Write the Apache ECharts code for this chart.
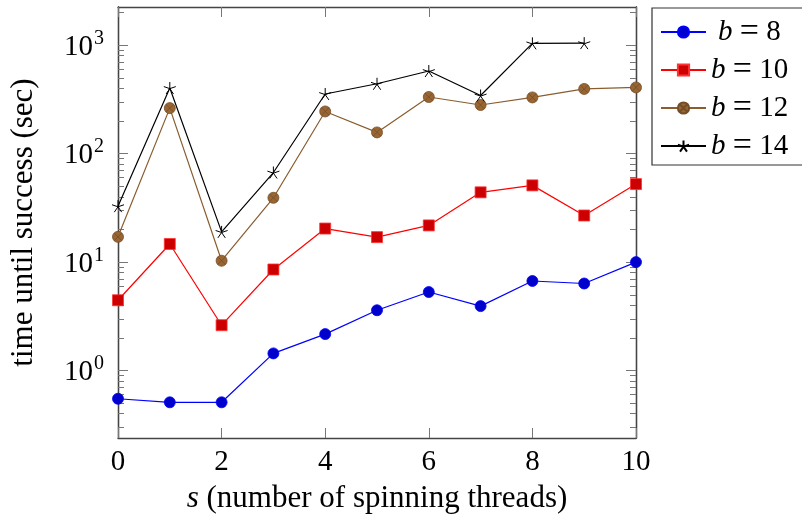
<!DOCTYPE html>
<html>
<head>
<meta charset="utf-8">
<script src="https://cdn.jsdelivr.net/npm/echarts@6/dist/echarts.min.js"></script>
<style>
  html, body { margin: 0; padding: 0; background: #fff; }
  #chart { width: 802px; height: 519px; }
</style>
</head>
<body>
<div id="chart"></div>
<script>
// spinning threads s
const sValues = [0, 1, 2, 3, 4, 5, 6, 7, 8, 9, 10];
// time until success (sec), one list per b
const timeB8 = [0.55, 0.51, 0.51, 1.44, 2.17, 3.6, 5.3, 3.93, 6.7, 6.35, 10.0];
const timeB10 = [4.45, 14.7, 2.62, 8.55, 20.4, 17.0, 21.8, 44, 51, 26.9, 52.4];
const timeB12 = [17.1, 263, 10.3, 39.2, 245, 157, 333, 281, 330, 395, 408];
const timeB14 = [32.8, 403, 19.0, 67, 355, 441, 578, 344, 1040, 1045];
const legendNames = ['8', '10', '12', '14'];
const xTicks = [0, 2, 4, 6, 8, 10];
const yTickExponents = [0, 1, 2, 3];

const FONT = '"Liberation Serif", "DejaVu Serif", serif';
const yMinLog = Math.log10(0.239);
const yMaxLog = Math.log10(2250);

// minor ticks of the log axis (2..9 x 10^n)
const minorTicks = [];
for (let n = -1; n <= 3; n++) {
    for (let k = 2; k <= 9; k++) {
        const v = Math.log10(k * Math.pow(10, n));
        if (v > yMinLog && v < yMaxLog) minorTicks.push(v);
    }
}

const toPoints = (vals) => vals.map((v, i) => [sValues[i], Math.log10(v)]);

const starPath = 'path://M0,0L0,-1M0,0L-0.951,-0.309M0,0L-0.588,0.809M0,0L0.588,0.809M0,0L0.951,-0.309';
const otimesPath = 'path://M1,0A1,1 0 1,1 -1,0A1,1 0 1,1 1,0ZM0.707,0.707L-0.707,-0.707M-0.707,0.707L0.707,-0.707';

const chart = echarts.init(document.getElementById('chart'), null, { renderer: 'canvas' });

const axisLineStyle = { color: '#444', width: 1.3 };
const tickStyle = { color: '#777', width: 1 };

function yAxisDef(position, ticks, len, showLabel) {
    return {
        type: 'value',
        position: position,
        min: yMinLog,
        max: yMaxLog,
        splitLine: { show: false },
        axisLine: { show: true, onZero: false, lineStyle: axisLineStyle },
        axisTick: { show: true, inside: true, length: len, customValues: ticks, lineStyle: tickStyle },
        axisLabel: {
            show: showLabel,
            customValues: yTickExponents,
            margin: 14,
            formatter: (v) => '{b|10}{s|' + Math.round(v) + '}',
            rich: {
                b: { fontSize: 29, fontFamily: FONT, color: '#000', verticalAlign: 'bottom' },
                s: { fontSize: 20, fontFamily: FONT, color: '#000', verticalAlign: 'bottom', padding: [0, 0, 13, 1] }
            }
        }
    };
}

const option = {
    backgroundColor: '#fff',
    animation: false,
    grid: { left: 118, right: 166, top: 7, bottom: 81, containLabel: false },
    legend: {
        orient: 'vertical',
        left: 652,
        top: 8,
        padding: [7, 30, 2, 8],
        itemWidth: 45,
        itemHeight: 14,
        itemGap: 4,
        borderColor: '#333',
        borderWidth: 1.2,
        backgroundColor: '#fff',
        textStyle: {
            fontFamily: FONT, fontSize: 29, color: '#000', lineHeight: 28,
            rich: {
                i: { fontStyle: 'italic', fontFamily: FONT, fontSize: 29 },
                e: { fontFamily: FONT, fontSize: 34 },
                p: { width: 7 }
            }
        },
        formatter: (name) => (name.length === 1 ? '{p|}' : '') + '{i|b} {e|=} ' + name,
        data: legendNames
    },
    xAxis: [
        {
            type: 'value',
            min: 0,
            max: 10,
            interval: 2,
            name: '{i|s} (number of spinning threads)',
            nameLocation: 'middle',
            nameGap: 45,
            nameTextStyle: {
                fontFamily: FONT, fontSize: 31, color: '#000',
                rich: { i: { fontStyle: 'italic', fontFamily: FONT, fontSize: 31 } }
            },
            splitLine: { show: false },
            axisLine: { show: true, onZero: false, lineStyle: axisLineStyle },
            axisTick: { inside: true, length: 10, customValues: xTicks, lineStyle: tickStyle },
            axisLabel: { customValues: xTicks, margin: 10, fontFamily: FONT, fontSize: 29, color: '#000' }
        },
        {
            type: 'value',
            position: 'top',
            min: 0,
            max: 10,
            interval: 2,
            splitLine: { show: false },
            axisLine: { show: true, onZero: false, lineStyle: axisLineStyle },
            axisTick: { inside: true, length: 10, customValues: xTicks, lineStyle: tickStyle },
            axisLabel: { show: false }
        }
    ],
    yAxis: [
        Object.assign(yAxisDef('left', yTickExponents, 10, true), {
            name: 'time until success (sec)',
            nameLocation: 'middle',
            nameGap: 79,
            nameTextStyle: { fontFamily: FONT, fontSize: 31, color: '#000' }
        }),
        yAxisDef('left', minorTicks, 6, false),
        yAxisDef('right', yTickExponents, 10, false),
        yAxisDef('right', minorTicks, 6, false)
    ],
    series: [
        {
            name: '8', type: 'line', data: toPoints(timeB8),
            symbol: 'circle', symbolSize: 11,
            lineStyle: { color: '#0000ff', width: 1.2 },
            itemStyle: { color: '#0000cc', borderColor: '#0000ff', borderWidth: 0.8 }
        },
        {
            name: '10', type: 'line', data: toPoints(timeB10),
            symbol: 'rect', symbolSize: 11,
            lineStyle: { color: '#ff0000', width: 1.2 },
            itemStyle: { color: '#cc0000', borderColor: '#ff3333', borderWidth: 0.8 }
        },
        {
            name: '12', type: 'line', data: toPoints(timeB12),
            symbol: otimesPath, symbolSize: 11,
            lineStyle: { color: '#8a5c2e', width: 1.2 },
            itemStyle: { color: '#996633', borderColor: '#734d26', borderWidth: 0.8 }
        },
        {
            name: '14', type: 'line', data: toPoints(timeB14),
            symbol: starPath, symbolSize: 12,
            lineStyle: { color: '#000', width: 1.2 },
            itemStyle: { color: 'none', borderColor: '#000', borderWidth: 1 }
        }
    ]
};

chart.setOption(option);
</script>
</body>
</html>
